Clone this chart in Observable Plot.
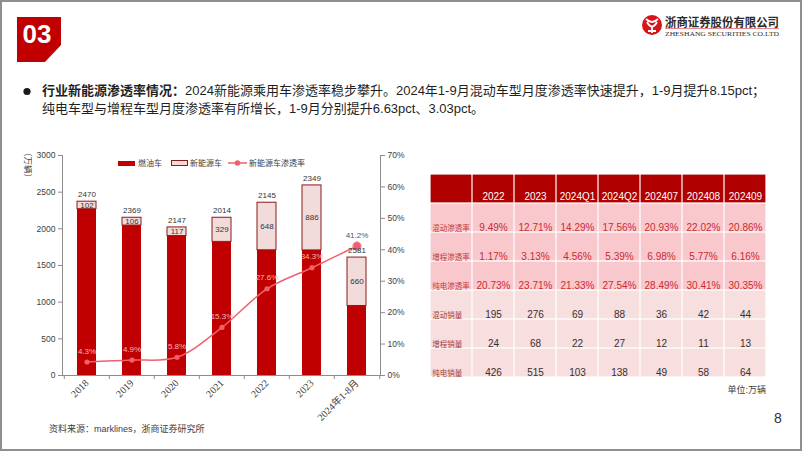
<!DOCTYPE html>
<html><head><meta charset="utf-8">
<script src="https://cdn.jsdelivr.net/npm/d3@7"></script>
<script src="https://cdn.jsdelivr.net/npm/@observablehq/plot@0.6"></script>
<style>
html,body{margin:0;padding:0;background:#fff;}
#slide{position:relative;width:802px;height:451px;overflow:hidden;font-family:"Liberation Sans","Noto Sans CJK SC",sans-serif;color:#262626;}
.abs{position:absolute;white-space:nowrap;}
.frame{position:absolute;left:0;top:0;width:802px;height:451px;box-sizing:border-box;border:2px solid #8f8f8f;pointer-events:none;}
.cn{font-family:"Noto Sans CJK SC","Liberation Sans",sans-serif;}
.mix{font-family:"Liberation Sans","Noto Sans CJK SC",sans-serif;}
</style></head><body><div id="slide">
<svg class="abs" style="left:0;top:0" width="802" height="120">
  <polygon points="17,17 61,17 61,45 45,62 17,62" fill="#c00000"/>
  <text x="37" y="42.5" text-anchor="middle" fill="#fff" font-family="Liberation Sans" font-weight="bold" font-size="26">03</text>
  <circle cx="652" cy="25" r="10" fill="#d7141a"/>
  <path d="M646,19 q6,6 12,0 M647,22 q5,9 10,0 M652,26 v7 M648,31 h8" stroke="#fff" stroke-width="1.8" fill="none"/>
  <text x="665" y="26.5" font-family="Noto Sans CJK SC" font-weight="bold" font-size="12" textLength="114" lengthAdjust="spacingAndGlyphs" fill="#2b2b2b">浙商证券股份有限公司</text>
  <line x1="665" y1="28.5" x2="779" y2="28.5" stroke="#e06a6a" stroke-width="0.8"/>
  <text x="665" y="36" font-family="Liberation Serif" font-size="7" textLength="114" lengthAdjust="spacingAndGlyphs" fill="#2b2b2b">ZHESHANG SECURITIES CO.LTD</text>
  <circle cx="27" cy="91.5" r="3.6" fill="#1a1a1a"/>
</svg>
<div class="abs mix" style="left:42px;top:82px;font-size:13px;line-height:18px;color:#1f1f1f;">
  <div><b>行业新能源渗透率情况：</b>2024新能源乘用车渗透率稳步攀升。2024年1-9月混动车型月度渗透率快速提升，1-9月提升8.15pct；</div>
  <div>纯电车型与增程车型月度渗透率有所增长，1-9月分别提升6.63pct、3.03pct。</div>
</div>
<div id="chart" class="abs" style="left:0;top:140px"></div>
<div id="legend" class="abs" style="left:0;top:0"></div>
<div id="table" class="abs" style="left:428px;top:171px"></div>
<div class="abs cn" style="left:29px;top:165px;font-size:8.5px;color:#404040;transform:translate(-50%,-50%) rotate(90deg);">（万辆）</div>
<div class="abs mix" style="right:36px;top:383px;font-size:9px;color:#404040;">单位:万辆</div>
<div class="abs" style="left:774px;top:410px;font-size:14px;color:#333;">8</div>
<div class="abs mix" style="left:49px;top:422px;font-size:9px;color:#404040;">资料来源：marklines，浙商证券研究所</div>
<div class="frame"></div>
</div>
<script>
// ---- chart data ----
const years = ["2018","2019","2020","2021","2022","2023","2024年1-8月"];
const fuelCars = [2268,2045,1902,1822,1708,1706,948];
const nevCars = [102,106,117,329,648,886,660];
const topLabels = ["2470","2369","2147","2014","2145","2349","2581"];
const nevRate = [4.3,4.9,5.8,15.3,27.6,34.3,41.2];
const leftTicks = [0,500,1000,1500,2000,2500,3000];
const rightTicks = [0,10,20,30,40,50,60,70];
const seriesNames = ["燃油车","新能源车","新能源车渗透率"];

// ---- table data ----
const tableCols = ["2022","2023","2024Q1","2024Q2","202407","202408","202409"];
const rowNames = ["混动渗透率","增程渗透率","纯电渗透率","混动销量","增程销量","纯电销量"];
const hybridRate = [9.49,12.71,14.29,17.56,20.93,22.02,20.86];
const erevRate = [1.17,3.13,4.56,5.39,6.98,5.77,6.16];
const bevRate = [20.73,23.71,21.33,27.54,28.49,30.41,30.35];
const hybridSales = [195,276,69,88,36,42,44];
const erevSales = [24,68,22,27,12,11,13];
const bevSales = [426,515,103,138,49,58,64];

const RED = "#c00000", PINK = "#f2dcdb", EDGE = "#8b1a1a", LINE = "#f0606c";
const K = 3000 / 70; // percent -> left-axis units
const rows = years.map((y, i) => ({year: y, fuel: fuelCars[i], nev: nevCars[i], total: fuelCars[i] + nevCars[i], top: topLabels[i], rate: nevRate[i], last: i === years.length - 1}));

const W = 420, H = 300, ML = 62, MR = 40, MT = 15, MB = 65;
const step = (W - ML - MR) / years.length;
const chart = Plot.plot({
  width: W, height: H, marginLeft: ML, marginRight: MR, marginTop: MT, marginBottom: MB,
  style: {fontFamily: "Liberation Sans, Noto Sans CJK SC, sans-serif", fontSize: "8.5px", color: "#404040", background: "transparent"},
  x: {domain: years, paddingInner: 0.58, paddingOuter: 0.29, label: null},
  y: {domain: [0, 3000], label: null},
  marks: [
    Plot.barY(rows, {x: "year", y1: 0, y2: "fuel", fill: RED}),
    Plot.barY(rows, {x: "year", y1: "fuel", y2: "total", fill: PINK, stroke: EDGE, strokeWidth: 1}),
    Plot.frame({anchor: "left", stroke: "#8c8c8c"}),
    Plot.frame({anchor: "right", stroke: "#8c8c8c"}),
    Plot.ruleY([0], {stroke: "#8c8c8c"}),
    Plot.ruleX(rows, {x: "year", y1: 0, y2: -4 * 3000 / 220, dx: -step / 2, stroke: "#8c8c8c"}),
    Plot.ruleX(rows.slice(-1), {x: "year", y1: 0, y2: -4 * 3000 / 220, dx: step / 2, stroke: "#8c8c8c"}),
    Plot.axisY(leftTicks, {anchor: "left", tickSize: 4, tickPadding: 3, stroke: "#8c8c8c", fill: "#404040", label: null, fontSize: 8.5, tickFormat: d => String(d)}),
    Plot.axisY(rightTicks.map(v => v * K), {anchor: "right", tickSize: 4, tickPadding: 3, stroke: "#8c8c8c", fill: "#404040", label: null, fontSize: 8.5, tickFormat: v => Math.round(v / K) + "%"}),
    Plot.axisX({tickRotate: -45, tickSize: 0, tickPadding: 6, fontFamily: "Liberation Serif, Noto Sans CJK SC, serif", fontSize: 10, fill: "#404040", label: null}),
    Plot.line(rows, {x: "year", y: d => d.rate * K, stroke: LINE, strokeWidth: 1.5, curve: "catmull-rom"}),
    Plot.dot(rows.filter(d => !d.last), {x: "year", y: d => d.rate * K, r: 2.6, fill: LINE}),
    Plot.dot(rows.filter(d => d.last), {x: "year", y: d => d.rate * K, r: 4.2, fill: LINE, stroke: "#f5a0a8", strokeWidth: 1}),
    Plot.text(rows, {x: "year", y: "total", text: "top", dy: -7, fontSize: 8, fill: "#333"}),
    Plot.text(rows, {x: "year", y: d => d.fuel + d.nev / 2, text: d => String(d.nev), fontSize: 8, fill: "#333"}),
    Plot.text(rows.filter(d => !d.last), {x: "year", y: d => d.rate * K, text: d => d.rate.toFixed(1) + "%", dy: -11, fontSize: 8, fill: "#f7b3ba"}),
    Plot.text(rows.filter(d => d.last), {x: "year", y: d => d.rate * K, text: d => d.rate.toFixed(1) + "%", dy: -11, fontSize: 8, fill: "#555"})
  ]
});
document.getElementById("chart").appendChild(chart);

// legend
const lg = document.getElementById("legend");
lg.innerHTML = `
<div class="abs" style="left:118px;top:160.5px;width:17px;height:5px;background:${RED}"></div>
<div class="abs cn" style="left:138px;top:157px;font-size:8px;color:#404040">${seriesNames[0]}</div>
<div class="abs" style="left:171px;top:160px;width:15px;height:4px;background:${PINK};border:1px solid ${EDGE}"></div>
<div class="abs cn" style="left:190px;top:157px;font-size:8px;color:#404040">${seriesNames[1]}</div>
<svg class="abs" style="left:226px;top:158px" width="22" height="10"><line x1="2" y1="5" x2="21" y2="5" stroke="${LINE}" stroke-width="1.5"/><circle cx="11.5" cy="5" r="2.8" fill="${LINE}"/></svg>
<div class="abs cn" style="left:249px;top:157px;font-size:8px;color:#404040">${seriesNames[2]}</div>`;

// table
const hdrKey = "hdr", lblKey = "lbl";
const rateRows = [hybridRate, erevRate, bevRate];
const salesRows = [hybridSales, erevSales, bevSales];
const cellsHdr = [lblKey, ...tableCols].map(c => ({col: c, row: hdrKey}));
const cellsRate = [], cellsSales = [];
rowNames.forEach((rn, ri) => {
  [lblKey, ...tableCols].forEach((c, ci) => {
    const rec = {col: c, row: rn, label: ci === 0 ? rn : (ri < 3 ? rateRows[ri][ci - 1].toFixed(2) + "%" : String(salesRows[ri - 3][ci - 1]))};
    (ri < 3 ? cellsRate : cellsSales).push(rec);
  });
});
const TW = 340, TH = 208;
const colStep = TW / (tableCols.length + 1);
const table = Plot.plot({
  width: TW, height: TH, margin: 0,
  style: {fontFamily: "Liberation Sans, Noto Sans CJK SC, sans-serif", background: "transparent"},
  x: {domain: [lblKey, ...tableCols], padding: 0, axis: null},
  y: {domain: [hdrKey, ...rowNames], padding: 0, axis: null},
  marks: [
    Plot.cell(cellsHdr, {x: "col", y: "row", fill: "#b00000", inset: 0.6}),
    Plot.cell(cellsRate, {x: "col", y: "row", fill: "#f9c8cc", inset: 0.6}),
    Plot.cell(cellsSales, {x: "col", y: "row", fill: "#f7dedf", inset: 0.6}),
    Plot.text(tableCols, {x: d => d, y: () => hdrKey, text: d => d, fill: "#fff", fontSize: 10, dy: 8}),
    Plot.text(cellsRate.filter(d => d.col !== lblKey), {x: "col", y: "row", text: "label", fill: "#cc2a34", fontSize: 10, dy: 10}),
    Plot.text(cellsRate.filter(d => d.col === lblKey), {x: "col", y: "row", text: "label", fill: "#c23a3a", fontSize: 7.5, dy: 10.5, dx: -colStep / 2 + 2, textAnchor: "start", fontFamily: "Noto Sans CJK SC"}),
    Plot.text(cellsSales.filter(d => d.col !== lblKey), {x: "col", y: "row", text: "label", fill: "#3a2f2f", fontSize: 10, dy: 10}),
    Plot.text(cellsSales.filter(d => d.col === lblKey), {x: "col", y: "row", text: "label", fill: "#a83a3a", fontSize: 7.5, dy: 10.5, dx: -colStep / 2 + 2, textAnchor: "start", fontFamily: "Noto Sans CJK SC"})
  ]
});
document.getElementById("table").appendChild(table);
</script>
</body></html>
